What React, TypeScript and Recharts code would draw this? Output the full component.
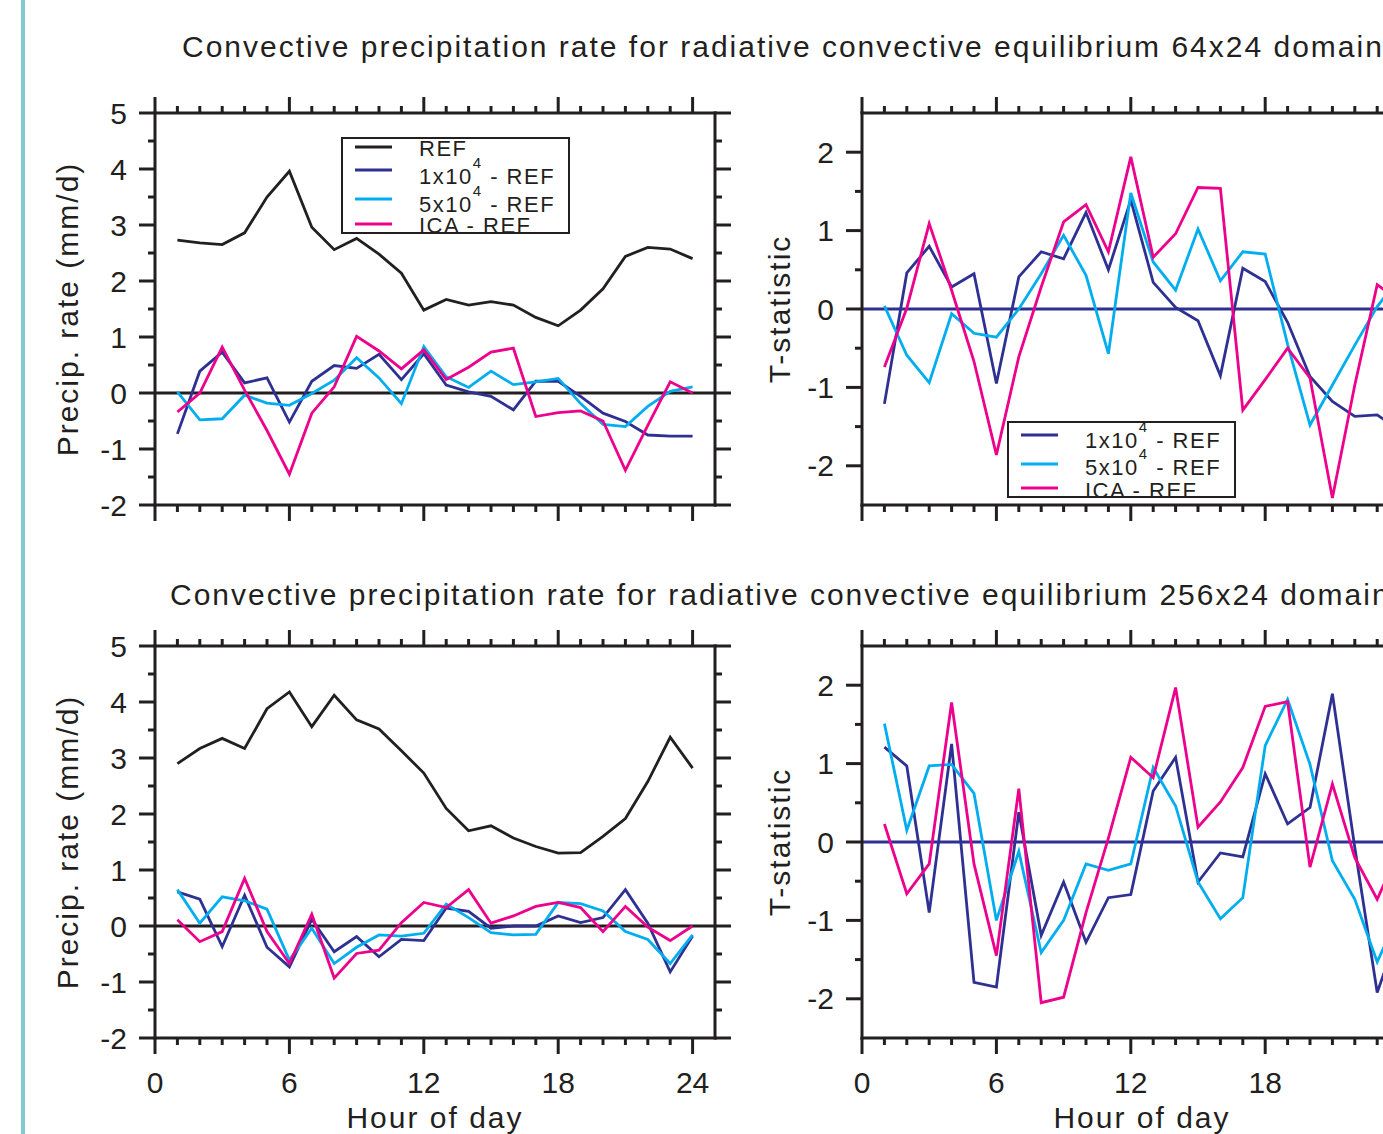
import React from "react";
import { LineChart, Line, XAxis, YAxis, ReferenceLine, Legend } from "recharts";

// Hour of day (x values)
const hours = [1, 2, 3, 4, 5, 6, 7, 8, 9, 10, 11, 12, 13, 14, 15, 16, 17, 18, 19, 20, 21, 22, 23, 24];

// 64x24 domain: precipitation rate (mm/d)
const ref64 = [2.73, 2.68, 2.65, 2.86, 3.5, 3.96, 2.96, 2.56, 2.76, 2.48, 2.14, 1.48, 1.67, 1.57, 1.63, 1.57, 1.35, 1.2, 1.48, 1.86, 2.44, 2.6, 2.57, 2.4];
const d1e4_64 = [-0.73, 0.39, 0.73, 0.18, 0.27, -0.52, 0.21, 0.49, 0.44, 0.69, 0.24, 0.7, 0.14, 0.02, -0.06, -0.3, 0.21, 0.21, -0.06, -0.36, -0.51, -0.75, -0.77, -0.77];
const d5e4_64 = [0.02, -0.48, -0.46, -0.04, -0.18, -0.22, -0.01, 0.23, 0.63, 0.27, -0.19, 0.83, 0.29, 0.1, 0.39, 0.15, 0.2, 0.26, -0.19, -0.56, -0.6, -0.24, 0.03, 0.11];
const dIca_64 = [-0.34, 0.0, 0.82, 0.05, -0.67, -1.45, -0.36, 0.11, 1.01, 0.75, 0.43, 0.77, 0.24, 0.46, 0.73, 0.8, -0.42, -0.35, -0.32, -0.5, -1.38, -0.58, 0.2, 0.0];

// 64x24 domain: T-statistic
const t1e4_64 = [-1.21, 0.46, 0.8, 0.28, 0.45, -0.95, 0.41, 0.73, 0.64, 1.23, 0.5, 1.39, 0.34, 0.02, -0.15, -0.85, 0.52, 0.35, -0.17, -0.86, -1.18, -1.37, -1.35, -1.55];
const t5e4_64 = [0.04, -0.59, -0.94, -0.06, -0.31, -0.36, 0.0, 0.45, 0.94, 0.43, -0.57, 1.48, 0.6, 0.24, 1.02, 0.36, 0.73, 0.7, -0.45, -1.48, -0.97, -0.46, 0.03, 0.4];
const tIca_64 = [-0.74, 0.01, 1.09, 0.24, -0.67, -1.86, -0.61, 0.28, 1.11, 1.33, 0.73, 1.94, 0.66, 0.96, 1.55, 1.54, -1.29, -0.9, -0.5, -0.88, -2.41, -0.97, 0.31, 0.1];

// 256x24 domain: precipitation rate (mm/d)
const ref256 = [2.9, 3.17, 3.35, 3.17, 3.88, 4.18, 3.56, 4.12, 3.68, 3.52, 3.13, 2.73, 2.1, 1.7, 1.79, 1.57, 1.42, 1.3, 1.31, 1.6, 1.92, 2.58, 3.37, 2.82];
const d1e4_256 = [0.61, 0.48, -0.37, 0.55, -0.38, -0.73, 0.12, -0.46, -0.19, -0.55, -0.24, -0.26, 0.32, 0.26, -0.04, 0.0, 0.0, 0.18, 0.06, 0.15, 0.65, 0.05, -0.82, -0.18];
const d5e4_256 = [0.65, 0.05, 0.52, 0.45, 0.3, -0.61, -0.04, -0.67, -0.38, -0.16, -0.18, -0.13, 0.39, 0.15, -0.12, -0.16, -0.15, 0.42, 0.4, 0.27, -0.1, -0.24, -0.67, -0.16];
const dIca_256 = [0.11, -0.28, -0.1, 0.85, -0.1, -0.67, 0.21, -0.93, -0.49, -0.43, 0.06, 0.42, 0.33, 0.65, 0.05, 0.18, 0.35, 0.42, 0.33, -0.1, 0.35, -0.02, -0.26, 0.0];

// 256x24 domain: T-statistic
const t1e4_256 = [1.21, 0.97, -0.9, 1.25, -1.79, -1.85, 0.38, -1.19, -0.51, -1.28, -0.71, -0.67, 0.65, 1.08, -0.51, -0.14, -0.19, 0.87, 0.23, 0.44, 1.89, -0.07, -1.92, -1.1];
const t5e4_256 = [1.51, 0.15, 0.97, 0.99, 0.62, -1.0, -0.12, -1.41, -1.0, -0.28, -0.36, -0.28, 0.95, 0.46, -0.51, -0.98, -0.71, 1.23, 1.82, 0.99, -0.24, -0.73, -1.53, -0.9];
const tIca_256 = [0.23, -0.66, -0.28, 1.78, -0.28, -1.45, 0.68, -2.05, -1.98, -0.9, 0.05, 1.08, 0.82, 1.97, 0.19, 0.51, 0.95, 1.73, 1.79, -0.32, 0.74, -0.2, -0.73, -0.1];

// Tick positions
const xTicks = [0, 1, 2, 3, 4, 5, 6, 7, 8, 9, 10, 11, 12, 13, 14, 15, 16, 17, 18, 19, 20, 21, 22, 23, 24];
const precipTicks = [-2, -1.5, -1, -0.5, 0, 0.5, 1, 1.5, 2, 2.5, 3, 3.5, 4, 4.5, 5];
const tTicks = [-2, -1.5, -1, -0.5, 0, 0.5, 1, 1.5, 2];

const INK = "#231f20";
const NAVY = "#2e3192";
const CYAN = "#00aeef";
const MAGENTA = "#ec008c";
const FONT = "'Liberation Sans', Arial, Helvetica, sans-serif";

interface Series {
  key: string;
  color: string;
  base: string;
  sup?: string;
  rest?: string;
}

const refSeries: Series = { key: "ref", color: INK, base: "REF" };
const diffSeries: Series[] = [
  { key: "a", color: NAVY, base: "1x10", sup: "4", rest: " - REF" },
  { key: "b", color: CYAN, base: "5x10", sup: "4", rest: " - REF" },
  { key: "c", color: MAGENTA, base: "ICA - REF" },
];

type Side = "top" | "bottom" | "left" | "right";

const majorX = (v: number) => v % 6 === 0;
const majorY = (v: number) => Number.isInteger(v);

function makeTick(side: Side, isMajor: (v: number) => boolean, labelled: boolean) {
  return (props: any) => {
    const { x, y, payload } = props;
    const v = Number(payload.value);
    const len = isMajor(v) ? 16 : 7;
    const end =
      side === "top" ? [x, y - len] : side === "bottom" ? [x, y + len] : side === "left" ? [x - len, y] : [x + len, y];
    let label = null;
    if (labelled && isMajor(v)) {
      label =
        side === "left" ? (
          <text x={x - 28} y={y} textAnchor="end" dominantBaseline="central" fontSize={30} fill={INK} fontFamily={FONT}>
            {v}
          </text>
        ) : (
          <text x={x} y={y + 55} textAnchor="middle" fontSize={30} fill={INK} fontFamily={FONT}>
            {v}
          </text>
        );
    }
    return (
      <g>
        <line x1={x} y1={y} x2={end[0]} y2={end[1]} stroke={INK} strokeWidth={3} />
        {label}
      </g>
    );
  };
}

interface LegendLayout {
  x: number;
  y: number;
  w: number;
  h: number;
  lineY: number[];
  textY: number[];
}

function LegendBox({ series, box }: { series: Series[]; box: LegendLayout }) {
  const { w, h, lineY, textY } = box;
  return (
    <svg width={w} height={h} style={{ display: "block", overflow: "visible" }}>
      <rect x={1} y={1} width={w - 2} height={h - 2} fill="#fff" />
      {series.map((s, i) => (
        <g key={s.key}>
          <line x1={14} x2={51} y1={lineY[i]} y2={lineY[i]} stroke={s.color} strokeWidth={3} />
          <text x={78} y={textY[i]} fontSize={22} letterSpacing={1.5} fill={INK} fontFamily={FONT}>
            {s.base}
            {s.sup && (
              <tspan dy={-16} fontSize={15}>
                {s.sup}
              </tspan>
            )}
            {s.rest && <tspan dy={16}>{s.rest}</tspan>}
          </text>
        </g>
      ))}
      <rect x={1} y={1} width={w - 2} height={h - 2} fill="none" stroke={INK} strokeWidth={2} />
    </svg>
  );
}

interface PanelProps {
  values: Record<string, number[]>;
  series: Series[];
  tstat: boolean;
  showX: boolean;
  left: number;
  top: number;
  width: number;
  height: number;
  topH: number;
  bottomH: number;
  leftW: number;
  rightW: number;
  legendBox?: LegendLayout;
}

function Panel(p: PanelProps) {
  const data = hours.map((h, i) => {
    const row: Record<string, number> = { hour: h };
    p.series.forEach((s) => (row[s.key] = p.values[s.key][i]));
    return row;
  });
  const domain = p.tstat ? [-2.5, 2.5] : [-2, 5];
  const yTicks = p.tstat ? tTicks : precipTicks;
  const frame = { stroke: INK, strokeWidth: 3, strokeLinecap: "square" as const };
  const box = p.legendBox;
  return (
    <div style={{ position: "absolute", left: p.left, top: p.top }}>
      <LineChart width={p.width} height={p.height} data={data} margin={{ top: 0, right: 0, bottom: 0, left: 0 }}>
        <XAxis
          dataKey="hour"
          type="number"
          domain={[0, 25]}
          allowDataOverflow
          ticks={xTicks}
          interval={0}
          height={p.bottomH}
          tickSize={0}
          tickMargin={0}
          axisLine={frame}
          tick={makeTick("bottom", majorX, p.showX)}
          label={
            p.showX
              ? {
                  value: "Hour of day",
                  position: "insideBottom",
                  offset: 6,
                  fontSize: 30,
                  fill: INK,
                  fontFamily: FONT,
                  letterSpacing: 2,
                }
              : undefined
          }
        />
        <XAxis
          xAxisId="top"
          orientation="top"
          dataKey="hour"
          type="number"
          domain={[0, 25]}
          allowDataOverflow
          ticks={xTicks}
          interval={0}
          height={p.topH}
          tickSize={0}
          tickMargin={0}
          axisLine={frame}
          tick={makeTick("top", majorX, false)}
        />
        <YAxis
          type="number"
          domain={domain}
          allowDataOverflow
          ticks={yTicks}
          interval={0}
          width={p.leftW}
          tickSize={0}
          tickMargin={0}
          axisLine={frame}
          tick={makeTick("left", majorY, true)}
          label={{
            value: p.tstat ? "T-statistic" : "Precip. rate (mm/d)",
            angle: -90,
            position: "center",
            dx: p.tstat ? -32 : -10,
            fontSize: 30,
            fill: INK,
            fontFamily: FONT,
            letterSpacing: 2,
          }}
        />
        <YAxis
          yAxisId="r"
          orientation="right"
          type="number"
          domain={domain}
          allowDataOverflow
          ticks={yTicks}
          interval={0}
          width={p.rightW}
          tickSize={0}
          tickMargin={0}
          axisLine={frame}
          tick={makeTick("right", majorY, false)}
        />
        <ReferenceLine y={0} stroke={p.tstat ? NAVY : INK} strokeWidth={3} />
        {p.series.map((s) => (
          <Line
            key={s.key}
            type="linear"
            dataKey={s.key}
            stroke={s.color}
            strokeWidth={2.8}
            dot={false}
            activeDot={false}
            isAnimationActive={false}
          />
        ))}
        {box && (
          <Legend
            layout="horizontal"
            verticalAlign="middle"
            align="center"
            wrapperStyle={{ left: box.x, top: box.y, width: box.w, height: box.h }}
            content={() => <LegendBox series={p.series} box={box} />}
          />
        )}
      </LineChart>
    </div>
  );
}

const titleStyle: React.CSSProperties = {
  position: "absolute",
  fontFamily: FONT,
  fontSize: 30,
  lineHeight: "30px",
  letterSpacing: 2,
  whiteSpace: "nowrap",
  color: INK,
};

export default function App() {
  const precipLegend = { x: 341, y: 57, w: 229, h: 97, lineY: [10, 33, 62, 87], textY: [19, 47, 75, 96] };
  const tLegend = { x: 247, y: 341, w: 229, h: 77, lineY: [14, 43, 67], textY: [27, 54, 77] };
  const allSeries = [refSeries, ...diffSeries];

  return (
    <div
      style={{
        position: "absolute",
        left: 0,
        top: 0,
        width: 1383,
        height: 1134,
        overflow: "hidden",
        background: "#fff",
      }}
    >
      <div style={{ position: "absolute", left: 21, top: 0, width: 4, height: 1134, background: "#80cad3" }} />

      <div style={{ ...titleStyle, left: 182, top: 32 }}>
        Convective precipitation rate for radiative convective equilibrium 64x24 domain
      </div>
      <div style={{ ...titleStyle, left: 170, top: 580 }}>
        Convective precipitation rate for radiative convective equilibrium 256x24 domain
      </div>

      <Panel
        values={{ ref: ref64, a: d1e4_64, b: d5e4_64, c: dIca_64 }}
        series={allSeries}
        tstat={false}
        showX={false}
        left={0}
        top={80}
        width={760}
        height={460}
        topH={33}
        bottomH={35}
        leftW={155}
        rightW={45}
        legendBox={precipLegend}
      />
      <Panel
        values={{ a: t1e4_64, b: t5e4_64, c: tIca_64 }}
        series={diffSeries}
        tstat
        showX={false}
        left={760}
        top={80}
        width={700}
        height={460}
        topH={33}
        bottomH={35}
        leftW={102}
        rightW={38}
        legendBox={tLegend}
      />
      <Panel
        values={{ ref: ref256, a: d1e4_256, b: d5e4_256, c: dIca_256 }}
        series={allSeries}
        tstat={false}
        showX
        left={0}
        top={610}
        width={760}
        height={524}
        topH={36}
        bottomH={96}
        leftW={155}
        rightW={45}
      />
      <Panel
        values={{ a: t1e4_256, b: t5e4_256, c: tIca_256 }}
        series={diffSeries}
        tstat
        showX
        left={760}
        top={610}
        width={700}
        height={524}
        topH={36}
        bottomH={96}
        leftW={102}
        rightW={38}
      />
    </div>
  );
}
